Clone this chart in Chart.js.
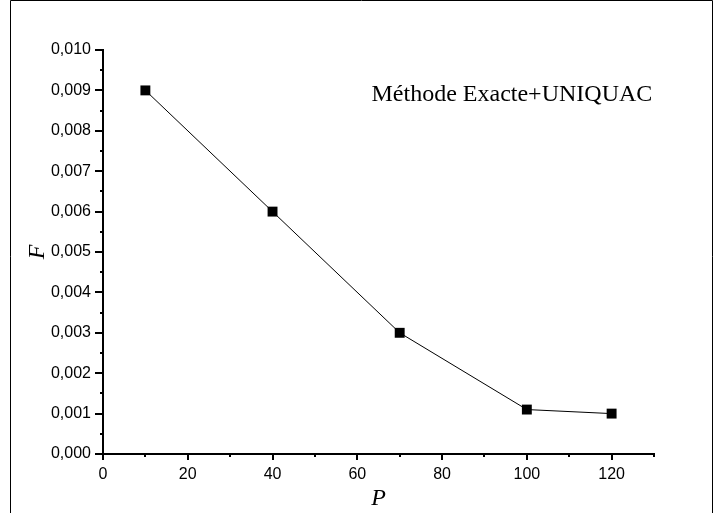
<!DOCTYPE html>
<html>
<head>
<meta charset="utf-8">
<script src="https://cdn.jsdelivr.net/npm/chart.js@4"></script>
<style>
  html, body { margin: 0; padding: 0; background: #fff; }
  #wrap { width: 713px; height: 513px; position: relative; }
</style>
</head>
<body>
<div id="wrap"><canvas id="fChart"></canvas></div>
<script>
// values
const pValues = [10, 40, 70, 100, 120];
const fValues = [0.009, 0.006, 0.003, 0.0011, 0.001];
const xMajorTicks = [0, 20, 40, 60, 80, 100, 120];
const yMajorTicks = [0, 0.001, 0.002, 0.003, 0.004, 0.005, 0.006, 0.007, 0.008, 0.009, 0.010];
const noteText = 'Méthode Exacte+UNIQUAC';

// outer frame of the figure + outward tick marks (major and minor)
const frameAndTicks = {
  id: 'frameAndTicks',
  afterDraw(chart) {
    const c = chart.ctx;
    const x = chart.scales.x, y = chart.scales.y;
    c.save();
    c.strokeStyle = '#000';
    c.lineWidth = 1;
    c.beginPath();
    c.moveTo(10.5, 513);
    c.lineTo(10.5, 0.5);
    c.lineTo(712.5, 0.5);
    c.lineTo(712.5, 513);
    c.stroke();

    c.lineWidth = 2;
    c.beginPath();
    for (let v = 0; v <= 130; v += 10) {
      const px = Math.round(x.getPixelForValue(v));
      const len = v % 20 === 0 ? 6 : 3;
      c.moveTo(px, y.bottom);
      c.lineTo(px, y.bottom + len);
    }
    for (let i = 0; i <= 20; i++) {
      const py = Math.round(y.getPixelForValue(i * 0.0005));
      const len = i % 2 === 0 ? 8 : 3;
      c.moveTo(x.left, py);
      c.lineTo(x.left - len, py);
    }
    c.stroke();

    c.fillStyle = '#000';
    c.font = '24px "Liberation Serif"';
    c.textAlign = 'right';
    c.textBaseline = 'middle';
    c.fillText(noteText, x.getPixelForValue(129.6), y.getPixelForValue(0.0089));
    c.restore();
  }
};

new Chart(document.getElementById('fChart'), {
  type: 'line',
  data: {
    datasets: [{
      data: pValues.map((p, i) => ({ x: p, y: fValues[i] })),
      borderColor: '#000',
      borderWidth: 1,
      backgroundColor: '#000',
      pointStyle: 'rect',
      pointRadius: 7,
      pointBorderWidth: 0,
      tension: 0
    }]
  },
  options: {
    responsive: true,
    maintainAspectRatio: false,
    animation: false,
    layout: { padding: { left: 0, right: 59, top: 50, bottom: 0 } },
    plugins: { legend: { display: false }, tooltip: { enabled: false } },
    scales: {
      x: {
        type: 'linear',
        min: 0,
        max: 130,
        afterBuildTicks(s) { s.ticks = xMajorTicks.map(v => ({ value: v })); },
        afterFit(s) { s.height = 59; },
        grid: { display: false, drawTicks: false },
        border: { display: true, color: '#000', width: 2 },
        ticks: {
          color: '#000',
          padding: 11,
          maxRotation: 0,
          font: { family: '"Liberation Sans", Arial', size: 16 }
        },
        title: {
          display: true,
          text: 'P',
          color: '#000',
          padding: { top: 0, bottom: 2 },
          font: { family: '"Liberation Serif"', style: 'italic', size: 24, lineHeight: 1 }
        }
      },
      y: {
        min: 0,
        max: 0.010,
        afterBuildTicks(s) { s.ticks = yMajorTicks.map(v => ({ value: v })); },
        afterFit(s) { s.width = 103; },
        grid: { display: false, drawTicks: false },
        border: { display: true, color: '#000', width: 2 },
        ticks: {
          color: '#000',
          padding: 12,
          font: { family: '"Liberation Sans", Arial', size: 16 },
          callback: v => v.toFixed(3).replace('.', ',')
        },
        title: {
          display: true,
          text: 'F',
          color: '#000',
          padding: { top: 26, bottom: 0 },
          font: { family: '"Liberation Serif"', style: 'italic', size: 24, lineHeight: 1 }
        }
      }
    }
  },
  plugins: [frameAndTicks]
});
</script>
</body>
</html>
